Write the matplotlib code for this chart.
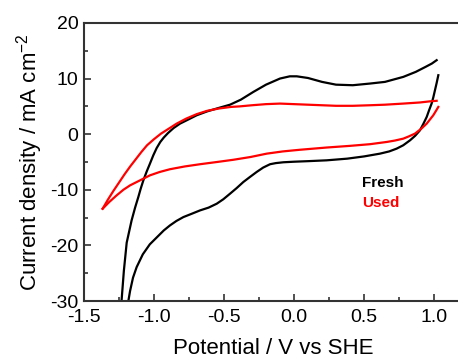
import matplotlib
matplotlib.use("Agg")
from matplotlib import pyplot as plt

plt.rcParams.update({
    "font.family": ["Liberation Sans", "DejaVu Sans"],
    "mathtext.fontset": "custom",
    "mathtext.rm": "Liberation Sans",
    "mathtext.default": "regular",
    "axes.unicode_minus": False,
})

# Fresh electrode, anodic sweep (bottom-left up to the right vertex)
fresh_fwd_x = [-1.235, -1.215, -1.195, -1.16, -1.135, -1.112, -1.095, -1.076, -1.052, -1.029,
               -1.005, -0.981, -0.955, -0.93, -0.90, -0.86, -0.814, -0.75, -0.695, -0.62,
               -0.54, -0.457, -0.38, -0.29, -0.20, -0.10, -0.03, 0.02, 0.10, 0.20, 0.30,
               0.42, 0.543, 0.65, 0.781, 0.87, 0.94, 0.985, 1.019]
fresh_fwd_y = [-31.0, -24.5, -19.5, -15.5, -13.2, -11.3, -9.8, -8.3, -6.7, -5.3,
               -3.8, -2.5, -1.4, -0.6, 0.2, 1.1, 1.9, 2.7, 3.4, 4.1,
               4.7, 5.3, 6.2, 7.6, 8.9, 10.0, 10.4, 10.4, 10.1, 9.4, 8.9,
               8.8, 9.1, 9.4, 10.3, 11.2, 12.1, 12.7, 13.3]

# Fresh electrode, cathodic sweep (right vertex back down)
fresh_rev_x = [1.031, 1.019, 1.007, 0.995, 0.983, 0.965, 0.948, 0.925, 0.90, 0.865,
               0.829, 0.78, 0.733, 0.68, 0.614, 0.50, 0.38, 0.233, 0.10, 0.0,
               -0.076, -0.13, -0.171, -0.22, -0.267, -0.315, -0.362, -0.41, -0.457,
               -0.505, -0.552, -0.61, -0.671, -0.73, -0.79, -0.84, -0.886, -0.93,
               -0.97, -1.03, -1.08, -1.124, -1.15, -1.171, -1.19]
fresh_rev_y = [10.6, 9.2, 7.9, 6.6, 5.5, 4.3, 3.1, 1.9, 0.7, -0.3,
               -1.1, -2.0, -2.6, -3.1, -3.5, -4.0, -4.4, -4.7, -4.85, -4.95,
               -5.05, -5.2, -5.4, -6.0, -6.8, -7.7, -8.6, -9.7, -10.7,
               -11.7, -12.5, -13.2, -13.7, -14.3, -14.9, -15.6, -16.4, -17.3,
               -18.3, -19.8, -21.6, -23.9, -25.8, -28.2, -31.0]

# Used electrode, anodic sweep (from the left vertex)
used_fwd_x = [-1.367, -1.33, -1.29, -1.25, -1.21, -1.17, -1.13, -1.09, -1.05, -1.0,
              -0.95, -0.90, -0.838, -0.77, -0.695, -0.62, -0.54, -0.45, -0.386, -0.30,
              -0.20, -0.10, 0.0, 0.1, 0.2, 0.3, 0.42, 0.543, 0.65, 0.781, 0.90, 0.97,
              1.019]
used_fwd_y = [-13.4, -11.8, -10.2, -8.7, -7.2, -5.8, -4.5, -3.2, -2.0, -0.9,
              0.1, 0.9, 1.9, 2.8, 3.6, 4.2, 4.6, 4.9, 5.0, 5.2,
              5.4, 5.5, 5.4, 5.3, 5.2, 5.1, 5.1, 5.2, 5.3, 5.5, 5.7, 5.9,
              6.0]

# Used electrode, cathodic sweep (right vertex back to the left vertex)
used_rev_x = [1.031, 1.012, 0.995, 0.97, 0.948, 0.91, 0.864, 0.82, 0.781, 0.72,
              0.662, 0.543, 0.40, 0.233, 0.043, -0.08, -0.195, -0.31, -0.433, -0.55,
              -0.671, -0.78, -0.886, -0.96, -1.029, -1.076, -1.171, -1.219, -1.267,
              -1.32, -1.367]
used_rev_y = [4.9, 4.1, 3.4, 2.6, 1.9, 1.0, 0.1, -0.4, -0.8, -1.15,
              -1.4, -1.8, -2.1, -2.4, -2.8, -3.1, -3.5, -4.1, -4.6, -5.0,
              -5.4, -5.8, -6.3, -6.8, -7.4, -8.0, -9.2, -10.0, -11.0,
              -12.2, -13.4]

series_labels = ["Fresh", "Used"]
series_colors = ["black", "#ff0000"]

fig = plt.figure(figsize=(4.58, 3.58), dpi=100)
ax = fig.add_axes([0.1834, 0.159, 0.8253, 0.777])

ax.plot(fresh_fwd_x, fresh_fwd_y, color=series_colors[0], lw=1.6)
ax.plot(fresh_rev_x, fresh_rev_y, color=series_colors[0], lw=1.6)
ax.plot(used_fwd_x, used_fwd_y, color=series_colors[1], lw=1.6)
ax.plot(used_rev_x, used_rev_y, color=series_colors[1], lw=1.6)

ax.set_xlim(-1.5, 1.2)
ax.set_ylim(-30, 20)
ax.set_xticks([-1.5, -1.0, -0.5, 0.0, 0.5, 1.0])
ax.set_xticklabels(["-1.5", "-1.0", "-0.5", "0.0", "0.5", "1.0"])
ax.set_xticks([-1.25, -0.75, -0.25, 0.25, 0.75], minor=True)
ax.set_yticks([-30, -20, -10, 0, 10, 20])
ax.set_yticks([-25, -15, -5, 5, 15], minor=True)

for side in ["left", "bottom", "top"]:
    ax.spines[side].set_linewidth(1.5)
    ax.spines[side].set_color("#333333")
ax.spines["right"].set_visible(False)

ax.tick_params(which="both", direction="in", top=False, right=False,
               labelsize=14, width=1.2, color="#333333", pad=4)
ax.tick_params(axis="x", which="both", pad=6)
ax.tick_params(which="major", length=5)
ax.tick_params(which="minor", length=3)

ax.set_xlabel("Potential / V vs SHE", fontsize=16, labelpad=8)
ax.set_ylabel("Current density / mA cm$^{-2}$", fontsize=16, labelpad=4)

ax.text(0.486, -8.8, series_labels[0], color=series_colors[0], fontsize=11,
        fontweight="bold", va="center", ha="left")
ax.text(0.486, -12.4, series_labels[1], color=series_colors[1], fontsize=11,
        fontweight="bold", va="center", ha="left")

fig.savefig("out.png", dpi=100)
